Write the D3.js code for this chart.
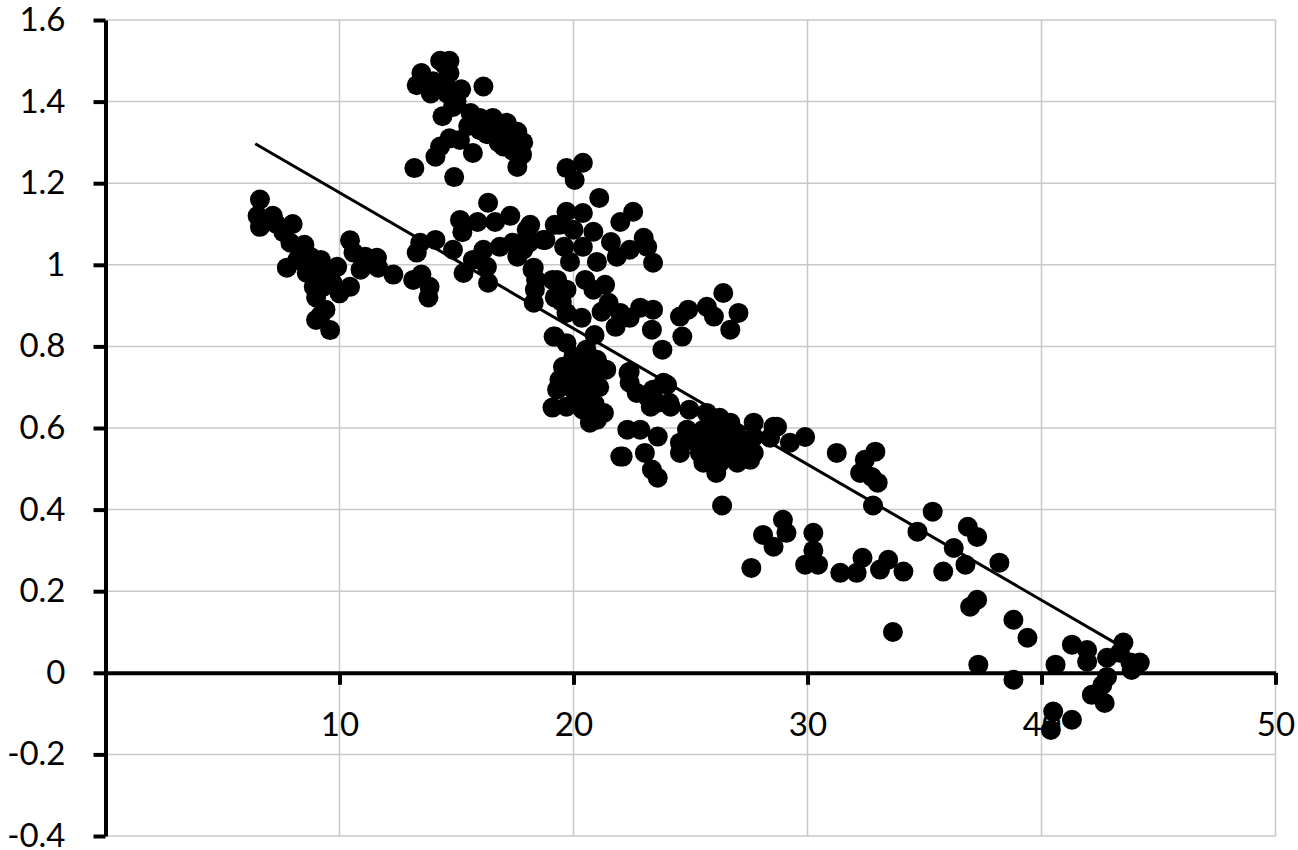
<!DOCTYPE html>
<html>
<head>
<meta charset="utf-8">
<script src="https://cdn.jsdelivr.net/npm/d3@7"></script>
<style>
  body { margin: 0; background: white; }
  text { font-family: 'Century Gothic', Futura, Lato, sans-serif; }
</style>
</head>
<body>
<div id="scatter"></div>
<script>
// Points, grouped by the region they sit in
const upperCluster = [
    [14.3,1.50],[14.7,1.50],[14.5,1.49],[13.5,1.47],[13.3,1.44],[13.9,1.42],[14.7,1.47],[15.2,1.43],
    [16.15,1.437],[14.4,1.364],[14.85,1.387],[15.6,1.372],[16.55,1.36],[17.15,1.348],[17.6,1.326],
    [17.85,1.30],[17.6,1.24],[17.0,1.29],[16.3,1.32],[15.7,1.274],[15.15,1.306],[14.7,1.31],[14.3,1.29],
    [14.1,1.265],[13.2,1.237],[14.9,1.215],[16.0,1.33],[17.3,1.31],[17.8,1.27],[16.8,1.30],
    [14.5,1.45],[14.2,1.43],[14.0,1.45],[14.6,1.42],[15.0,1.40],[15.5,1.34],[16.0,1.36],[17.4,1.28],
    [16.6,1.33]
];

const leftCluster = [
    [6.6,1.16],[6.5,1.12],[6.6,1.093],[7.15,1.12],[7.3,1.10],[8.0,1.10],[7.6,1.08],[7.9,1.054],
    [8.5,1.049],[7.75,0.993],[8.2,1.012],[8.75,1.02],[9.2,1.012],[8.6,0.98],[9.0,0.98],[9.5,0.988],
    [9.9,0.995],[8.9,0.946],[9.3,0.946],[9.7,0.956],[10.0,0.93],[9.0,0.92],[10.45,0.946],[10.45,1.06],
    [10.6,1.03],[11.1,1.02],[11.6,1.017],[10.9,0.988],[11.65,0.993],[12.3,0.976],[9.2,0.877],[9.4,0.89],
    [9.6,0.84],[9.0,0.865]
];

const midCluster = [
    [13.45,1.054],[13.3,1.03],[14.1,1.061],[14.85,1.037],[13.15,0.963],[13.5,0.976],[13.85,0.946],
    [13.8,0.92],[15.15,1.11],[15.25,1.08],[16.35,1.152],[15.9,1.105],[16.65,1.105],[17.3,1.12],
    [15.3,0.98],[15.7,1.012],[16.15,1.037],[16.3,0.995],[16.35,0.956],[16.85,1.044],[17.4,1.054],
    [18.0,1.086],[18.1,1.054],[17.6,1.02],[18.7,1.061],[19.2,1.098],[18.25,0.988],[18.4,0.963],
    [18.35,0.939],[18.3,0.907],[19.1,0.963],[19.2,0.92],[19.2,0.824]
];

const centerCluster = [
    [19.7,1.237],[20.4,1.25],[20.05,1.208],[21.1,1.164],[19.7,1.13],[20.4,1.127],[22.0,1.105],
    [22.55,1.13],[19.4,1.098],[18.15,1.098],[18.8,1.061],[20.0,1.086],[20.85,1.081],[19.6,1.044],
    [20.4,1.044],[21.6,1.056],[23.0,1.066],[23.15,1.044],[19.85,1.007],[21.0,1.007],[21.85,1.02],
    [22.4,1.037],[23.4,1.005],[17.85,1.037],[18.3,0.993],[19.3,0.963],[19.7,0.939],[20.5,0.963],
    [20.85,0.939],[21.35,0.951],[19.5,0.909],[19.7,0.882],[20.35,0.87],[21.2,0.885],[21.5,0.907],
    [22.0,0.882],[21.8,0.848],[22.4,0.87],[22.85,0.895],[23.4,0.89],[23.35,0.841],[23.8,0.792],
    [24.55,0.873],[24.65,0.824],[24.9,0.89],[25.7,0.897],[26.4,0.931],[27.05,0.882],[26.7,0.841],
    [26.0,0.873],[19.15,0.824],[19.7,0.808],[20.9,0.828]
];

const denseCluster = [
    [19.55,0.75],[20.0,0.775],[20.55,0.792],[21.0,0.767],[21.4,0.743],[19.4,0.718],[20.15,0.718],
    [20.85,0.718],[19.3,0.694],[20.0,0.694],[20.7,0.686],[19.7,0.652],[20.4,0.645],[21.3,0.637],
    [20.7,0.613],[21.0,0.62],[22.4,0.738],[22.4,0.711],[23.15,0.677],[23.4,0.694],[23.85,0.711],
    [23.6,0.662],[24.1,0.662],[22.3,0.596],[22.85,0.596],[23.6,0.579],[22.0,0.53],[23.05,0.539],
    [23.35,0.498],[23.6,0.478],[22.1,0.53],[20.3,0.76],[20.6,0.74],[19.9,0.73],[21.1,0.70],
    [20.3,0.68],[20.9,0.66],[19.1,0.65]
];

const trendCluster = [
    [22.35,0.735],[22.7,0.686],[24.0,0.706],[23.3,0.652],[24.15,0.652],[24.95,0.645],[25.7,0.637],
    [26.25,0.625],[26.7,0.613],[27.7,0.613],[28.55,0.603],[24.85,0.596],[25.55,0.596],[26.25,0.588],
    [26.95,0.588],[27.7,0.578],[24.55,0.564],[25.25,0.564],[25.95,0.564],[26.7,0.564],[27.4,0.554],
    [24.55,0.539],[25.4,0.539],[26.1,0.539],[26.85,0.539],[27.7,0.539],[25.55,0.515],[26.25,0.515],
    [27.0,0.515],[27.55,0.522],[26.1,0.49],[26.35,0.41],[25.0,0.58],[26.0,0.60],[26.5,0.55],
    [27.2,0.57],[25.8,0.53]
];

const rightCluster = [
    [28.7,0.603],[29.25,0.564],[29.9,0.578],[28.4,0.576],[31.25,0.539],[32.9,0.542],[32.45,0.522],
    [32.25,0.49],[32.75,0.48],[33.0,0.466],[32.8,0.41],[35.35,0.395],[34.7,0.346],[36.85,0.358],
    [37.25,0.333],[36.25,0.306],[36.75,0.265],[38.2,0.27],[35.8,0.248],[36.95,0.162],[37.25,0.179],
    [38.8,0.13],[39.4,0.086],[37.3,0.02],[38.8,-0.017],[40.6,0.02],[41.3,0.069],[41.95,0.056],
    [41.95,0.027],[42.8,0.037],[43.5,0.074],[43.35,0.049],[43.8,0.025],[44.2,0.025],[43.85,0.007],
    [42.6,-0.03],[42.8,-0.01],[42.15,-0.054],[42.7,-0.074],[40.5,-0.095],[41.3,-0.115],[40.4,-0.14]
];

const lowerRow = [
    [27.6,0.257],[28.1,0.338],[28.55,0.309],[28.95,0.375],[29.1,0.343],[30.25,0.343],[30.25,0.30],
    [29.9,0.265],[30.45,0.265],[31.4,0.245],[32.1,0.245],[32.35,0.282],[33.1,0.253],[33.45,0.277],
    [34.1,0.248],[33.65,0.10]
];

// Linear trend line (start and end x, slope, intercept)
const trendX = [6.4, 43.2];
const trendSlope = -0.0333;
const trendIntercept = 1.51;

const xTicks = [10, 20, 30, 40, 50];
const yTicks = [-0.4, -0.2, 0, 0.2, 0.4, 0.6, 0.8, 1, 1.2, 1.4, 1.6];

const data = [].concat(upperCluster, leftCluster, midCluster, centerCluster,
    denseCluster, trendCluster, rightCluster, lowerRow);

let width = 1298, height = 850;

let svg = d3.select("#scatter")
    .append("svg")
    .attr("width", width)
    .attr("height", height);

let xScale = d3.scaleLinear()
    .domain([0, 50])
    .range([105.5, 1275.5]);

let yScale = d3.scaleLinear()
    .domain([-0.4, 1.6])
    .range([836, 20]);

// Gridlines
svg.append("g")
    .selectAll("line")
    .data(yTicks)
    .enter().append("line")
    .attr("x1", xScale(0))
    .attr("x2", xScale(50))
    .attr("y1", d => yScale(d))
    .attr("y2", d => yScale(d))
    .attr("stroke", "#c8c8c8")
    .attr("stroke-width", 1.5);

svg.append("g")
    .selectAll("line")
    .data(xTicks)
    .enter().append("line")
    .attr("x1", d => xScale(d))
    .attr("x2", d => xScale(d))
    .attr("y1", yScale(1.6))
    .attr("y2", yScale(-0.4))
    .attr("stroke", "#c8c8c8")
    .attr("stroke-width", 1.5);

// Points
svg.append("g")
    .selectAll("circle")
    .data(data)
    .enter().append("circle")
    .attr("cx", d => xScale(d[0]))
    .attr("cy", d => yScale(d[1]))
    .attr("r", 10)
    .attr("fill", "black");

// Trend line
svg.append("line")
    .attr("x1", xScale(trendX[0]))
    .attr("y1", yScale(trendIntercept + trendSlope * trendX[0]))
    .attr("x2", xScale(trendX[1]))
    .attr("y2", yScale(trendIntercept + trendSlope * trendX[1]))
    .attr("stroke", "black")
    .attr("stroke-width", 3);

// Axes (plain hyphen for negatives, like the original)
let yAxis = svg.append("g")
    .attr("transform", `translate(${xScale(0)},0)`)
    .call(d3.axisLeft(yScale)
        .tickValues(yTicks)
        .tickFormat(d => String(+d.toFixed(1)))
        .tickSize(12)
        .tickSizeOuter(0)
        .tickPadding(28));

let xAxis = svg.append("g")
    .attr("transform", `translate(0,${yScale(0)})`)
    .call(d3.axisBottom(xScale)
        .tickValues(xTicks)
        .tickFormat(d => String(d))
        .tickSize(12)
        .tickSizeOuter(0)
        .tickPadding(28));

svg.selectAll(".domain, .tick line")
    .attr("stroke", "black")
    .attr("stroke-width", 4);

svg.selectAll(".tick text")
    .attr("fill", "black")
    .style("font-size", "33px")
    .style("font-family", "'Century Gothic', Futura, Lato, sans-serif");
</script>
</body>
</html>
